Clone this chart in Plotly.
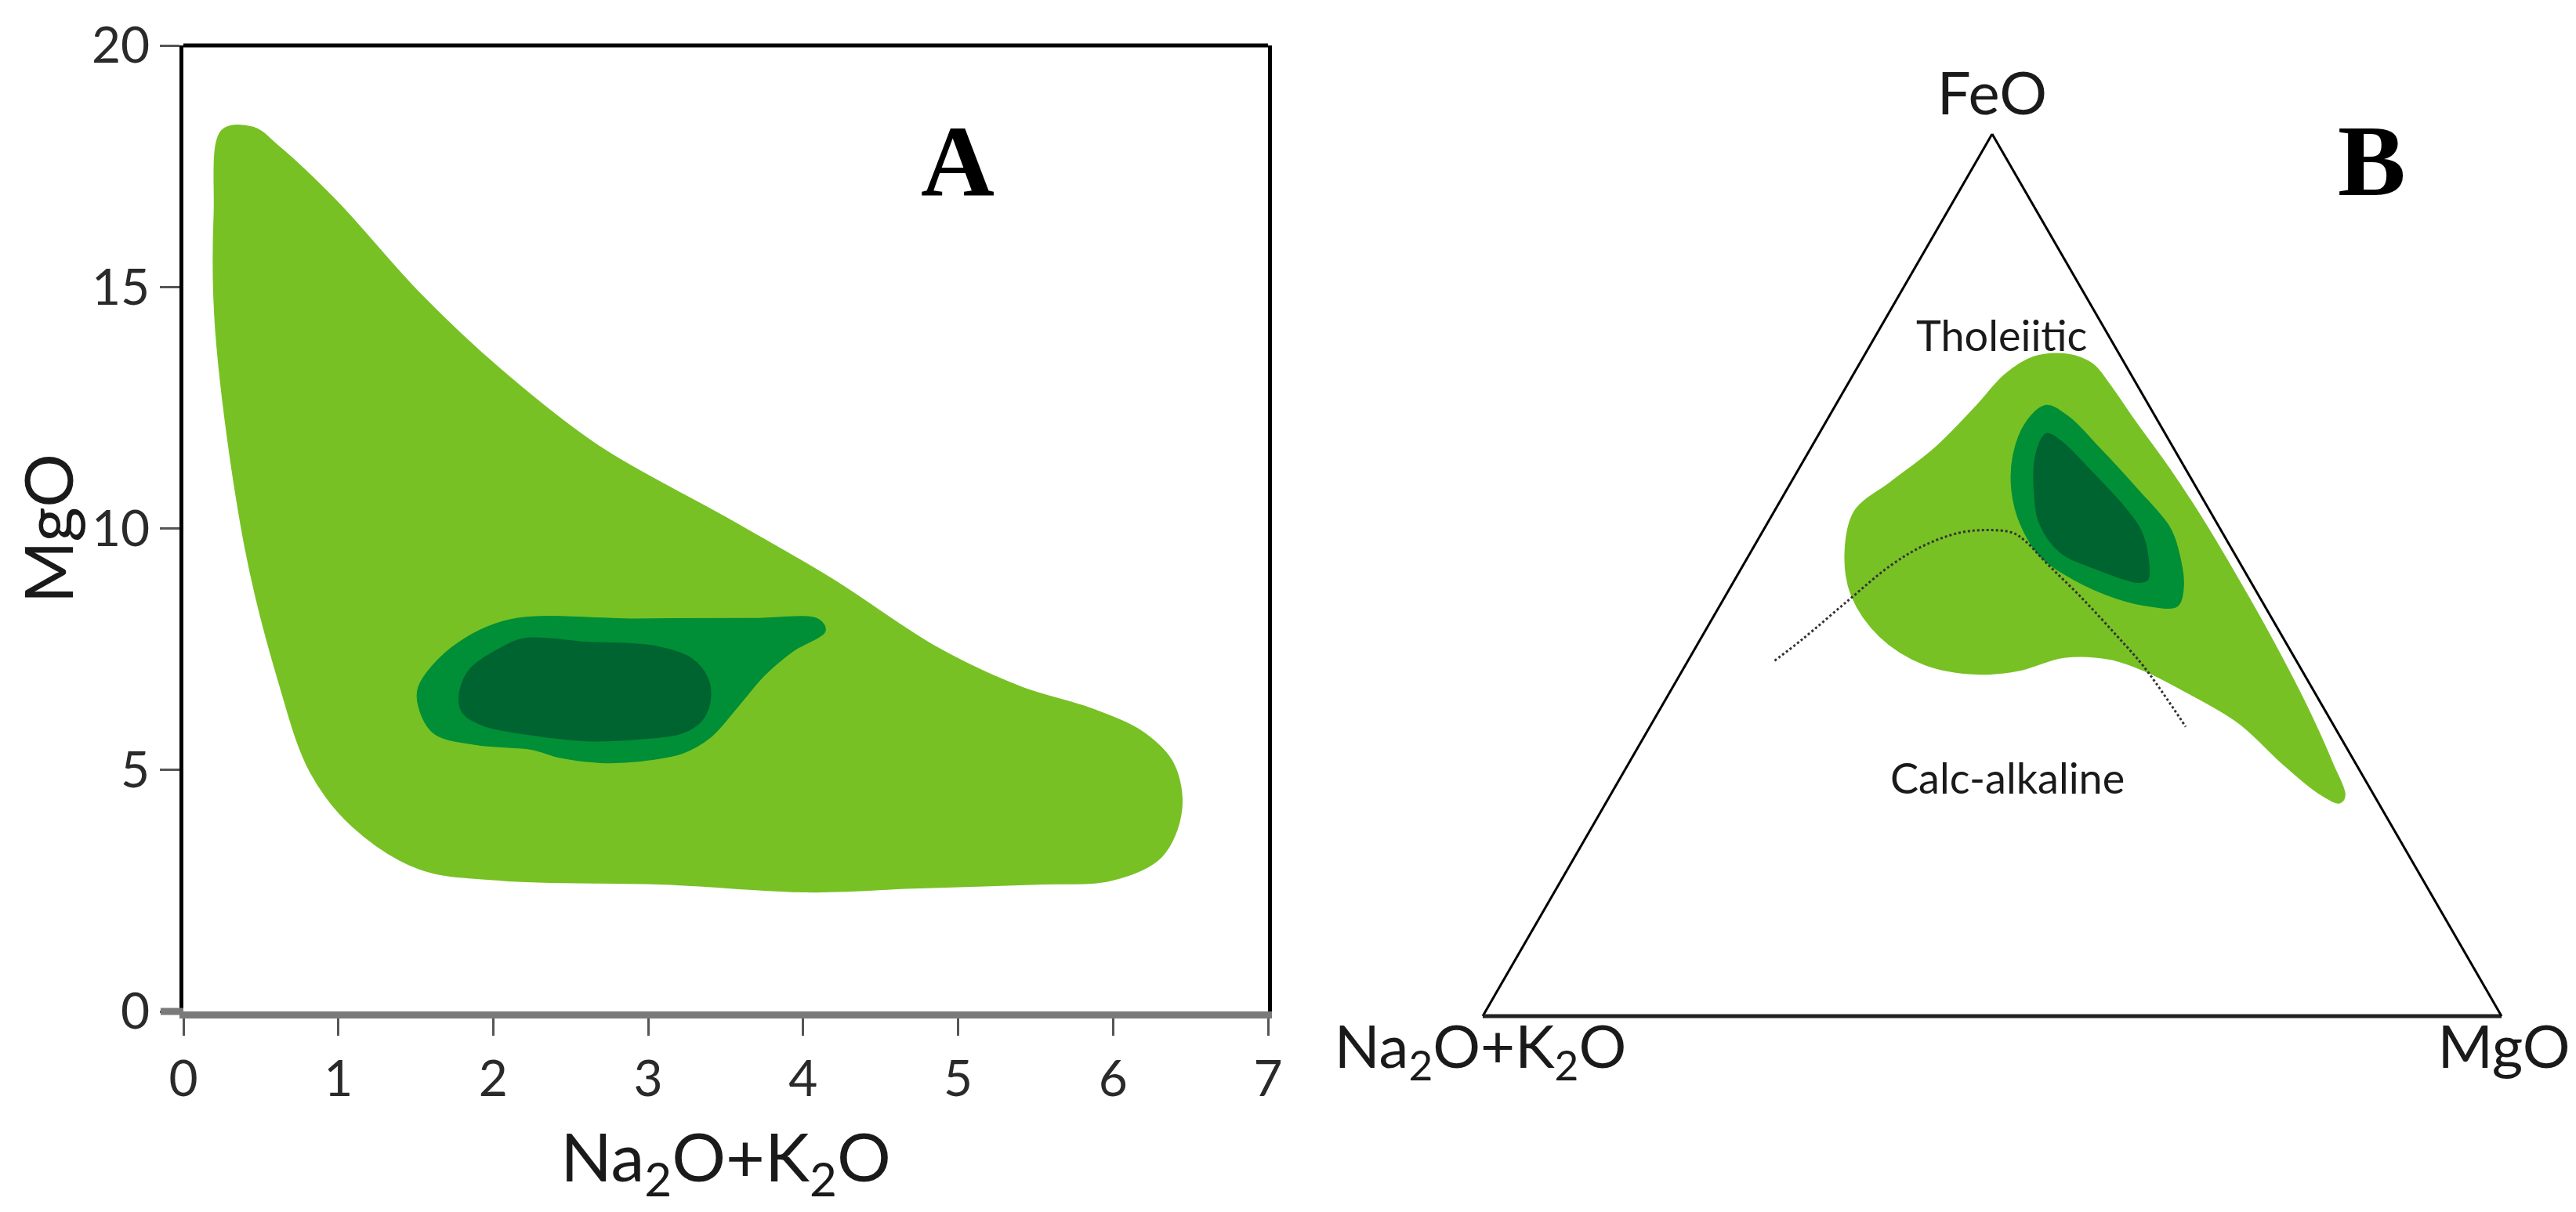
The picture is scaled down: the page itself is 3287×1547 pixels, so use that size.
import plotly.graph_objects as go

W, H = 3287, 1547

# ---- panel A : MgO vs Na2O+K2O density outlines ----
outer_x = [0.25, 0.45, 0.61, 0.98, 1.52, 2.05, 2.69, 3.49, 4.18, 4.87, 5.40, 5.88, 6.20,
           6.39, 6.44, 6.31, 5.99, 5.51, 4.71, 4.02, 3.11, 2.05, 1.52, 1.09, 0.82, 0.61,
           0.40, 0.21, 0.20]
outer_y = [18.24, 18.30, 17.92, 16.80, 14.88, 13.28, 11.68, 10.24, 8.96, 7.52, 6.72, 6.24,
           5.76, 5.12, 4.16, 3.20, 2.72, 2.64, 2.56, 2.48, 2.64, 2.72, 2.96, 3.84, 4.96,
           6.90, 9.60, 14.10, 16.50]

mid_x = [2.10, 2.90, 3.67, 4.10, 4.14, 3.93, 3.75, 3.58, 3.40, 3.22, 2.95, 2.69, 2.42,
         2.25, 1.89, 1.62, 1.52, 1.52, 1.73]
mid_y = [8.10, 8.12, 8.13, 8.11, 7.88, 7.46, 6.97, 6.33, 5.68, 5.35, 5.19, 5.16, 5.27,
         5.43, 5.53, 5.76, 6.32, 6.72, 7.52]

core_x = [2.05, 2.21, 2.60, 3.04, 3.28, 3.38, 3.40, 3.35, 3.22, 2.95, 2.60, 2.25, 1.94,
          1.81, 1.78, 1.84]
core_y = [7.52, 7.72, 7.64, 7.56, 7.30, 6.91, 6.49, 6.05, 5.77, 5.65, 5.61, 5.73, 5.92,
          6.16, 6.48, 7.04]

x_ticks = [0, 1, 2, 3, 4, 5, 6, 7]
y_ticks = [0, 5, 10, 15, 20]

# ---- panel B : AFM ternary (a = FeO, b = Na2O+K2O, c = MgO) ----
t_outer_a = [0.747, 0.750, 0.739, 0.716, 0.676, 0.620, 0.562, 0.495, 0.423, 0.348, 0.285,
             0.250, 0.242, 0.253, 0.285, 0.333, 0.368, 0.392, 0.405, 0.407, 0.392, 0.388,
             0.399, 0.431, 0.479, 0.530, 0.573, 0.605, 0.644, 0.692, 0.727]
t_outer_b = [0.086, 0.051, 0.032, 0.027, 0.023, 0.016, 0.012, 0.011, 0.012, 0.016, 0.023,
             0.029, 0.038, 0.053, 0.071, 0.092, 0.126, 0.155, 0.182, 0.226, 0.278, 0.321,
             0.367, 0.395, 0.399, 0.379, 0.348, 0.297, 0.234, 0.169, 0.124]
t_outer_c = [0.167, 0.199, 0.229, 0.257, 0.301, 0.364, 0.426, 0.494, 0.565, 0.636, 0.692,
             0.721, 0.720, 0.694, 0.644, 0.575, 0.506, 0.453, 0.413, 0.367, 0.330, 0.291,
             0.234, 0.174, 0.122, 0.091, 0.079, 0.098, 0.122, 0.139, 0.149]

t_mid_a = [0.692, 0.673, 0.636, 0.597, 0.558, 0.522, 0.495, 0.474, 0.465, 0.465, 0.487,
           0.530, 0.554, 0.597, 0.644, 0.680]
t_mid_b = [0.101, 0.130, 0.161, 0.182, 0.193, 0.192, 0.172, 0.141, 0.112, 0.086, 0.069,
           0.053, 0.049, 0.059, 0.073, 0.086]
t_mid_c = [0.207, 0.197, 0.203, 0.221, 0.249, 0.286, 0.333, 0.385, 0.423, 0.449, 0.444,
           0.417, 0.397, 0.344, 0.283, 0.234]

t_core_a = [0.660, 0.636, 0.597, 0.558, 0.526, 0.506, 0.492, 0.495, 0.518, 0.550, 0.577,
            0.620, 0.652]
t_core_b = [0.117, 0.139, 0.160, 0.174, 0.170, 0.142, 0.111, 0.100, 0.088, 0.079, 0.082,
            0.095, 0.107]
t_core_c = [0.223, 0.225, 0.243, 0.268, 0.304, 0.352, 0.397, 0.405, 0.394, 0.371, 0.341,
            0.285, 0.241]

# Tholeiitic / calc-alkaline divide
div_a = [0.403, 0.427, 0.471, 0.511, 0.534, 0.548, 0.551, 0.548, 0.538, 0.514, 0.474,
         0.431, 0.396, 0.328]
div_b = [0.512, 0.473, 0.406, 0.344, 0.299, 0.258, 0.229, 0.206, 0.198, 0.190, 0.175,
         0.162, 0.153, 0.146]
div_c = [0.085, 0.100, 0.123, 0.145, 0.167, 0.194, 0.220, 0.246, 0.264, 0.296, 0.351,
         0.407, 0.451, 0.526]

LIGHT = "#78C125"
MID = "#008F37"
DARK = "#006430"


def closed(v):
    return list(v) + [v[0]]


fig = go.Figure()

for xs, ys, col in [(outer_x, outer_y, LIGHT), (mid_x, mid_y, MID), (core_x, core_y, DARK)]:
    fig.add_trace(go.Scatter(
        x=closed(xs), y=closed(ys), mode="lines", fill="toself", fillcolor=col,
        line=dict(color=col, width=2, shape="spline", smoothing=1.0),
        hoverinfo="skip"))

for a, b, c, col in [(t_outer_a, t_outer_b, t_outer_c, LIGHT),
                     (t_mid_a, t_mid_b, t_mid_c, MID),
                     (t_core_a, t_core_b, t_core_c, DARK)]:
    fig.add_trace(go.Scatterternary(
        a=closed(a), b=closed(b), c=closed(c), mode="lines", fill="toself",
        fillcolor=col, line=dict(color=col, width=2, shape="spline", smoothing=1.0),
        hoverinfo="skip"))

fig.add_trace(go.Scatterternary(
    a=div_a, b=div_b, c=div_c, mode="lines",
    line=dict(color="#333333", width=3, dash="dot", shape="spline"),
    hoverinfo="skip"))

label_font = dict(family="Lato, Open Sans, sans-serif", size=86, color="#1a1a1a")
tern_font = dict(family="Lato, Open Sans, sans-serif", size=76, color="#1a1a1a")
tick_font = dict(family="Lato, Open Sans, sans-serif", size=64, color="#2a2a2a")

fig.update_layout(
    width=W, height=H,
    margin=dict(l=0, r=0, t=0, b=0, autoexpand=False),
    paper_bgcolor="white", plot_bgcolor="white",
    showlegend=False,
    font=dict(family="Lato, Open Sans, sans-serif"),
    xaxis=dict(
        domain=[226 / W, 1610 / W], range=[0, 7], tickvals=x_ticks,
        ticks="outside", ticklen=22, tickwidth=3, tickcolor="#555",
        showline=True, linecolor="#7a7a7a", linewidth=9,
        showgrid=False, zeroline=False, tickfont=tick_font, automargin=False,
        title=dict(text="Na<sub>2</sub>O+K<sub>2</sub>O", font=label_font, standoff=40),
    ),
    yaxis=dict(
        domain=[264 / H, 1497 / H], range=[0, 20], tickvals=y_ticks,
        ticks="outside", ticklen=25, tickwidth=3, tickcolor="#555",
        showline=True, linecolor="black", linewidth=5, mirror=True,
        showgrid=False, zeroline=False, tickfont=tick_font, automargin=False,
        title=dict(text="MgO", font=label_font, standoff=30),
    ),
    ternary=dict(
        domain=dict(x=[1884 / W, 3184 / W], y=[258 / H, 1384 / H]),
        sum=1, bgcolor="white",
        aaxis=dict(title=dict(text="FeO", font=tern_font), showgrid=False,
                   showticklabels=False, ticks="", showline=True,
                   linecolor="black", linewidth=3),
        baxis=dict(title=dict(text="Na<sub>2</sub>O+K<sub>2</sub>O", font=tern_font),
                   showgrid=False, showticklabels=False, ticks="", showline=True,
                   linecolor="#222", linewidth=5),
        caxis=dict(title=dict(text="MgO", font=tern_font), showgrid=False,
                   showticklabels=False, ticks="", showline=True,
                   linecolor="black", linewidth=3),
    ),
)

# top frame line (black) and small left overhang of the grey base line
fig.add_shape(type="line", xref="x domain", yref="y domain", x0=0, x1=1, y0=1, y1=1,
              line=dict(color="black", width=5))
fig.add_shape(type="line", xref="x domain", yref="y domain", x0=-0.021, x1=0, y0=0, y1=0,
              line=dict(color="#7a7a7a", width=9))

panel_font = dict(family="Liberation Serif, Times New Roman, serif", size=130, color="black")
note_font = dict(family="Lato, Open Sans, sans-serif", size=54, color="#1a1a1a")

fig.add_annotation(text="<b>A</b>", x=1214 / W, y=1 - 197 / H, xref="paper", yref="paper",
                   showarrow=False, font=panel_font, xanchor="center", yanchor="middle")
fig.add_annotation(text="<b>B</b>", x=3018 / W, y=1 - 197 / H, xref="paper", yref="paper",
                   showarrow=False, font=panel_font, xanchor="center", yanchor="middle")
fig.add_annotation(text="Tholeiitic", x=2546 / W, y=1 - 420 / H, xref="paper", yref="paper",
                   showarrow=False, font=note_font, xanchor="center", yanchor="middle")
fig.add_annotation(text="Calc-alkaline", x=2553 / W, y=1 - 985 / H, xref="paper", yref="paper",
                   showarrow=False, font=note_font, xanchor="center", yanchor="middle")

fig.write_html("out.html")
